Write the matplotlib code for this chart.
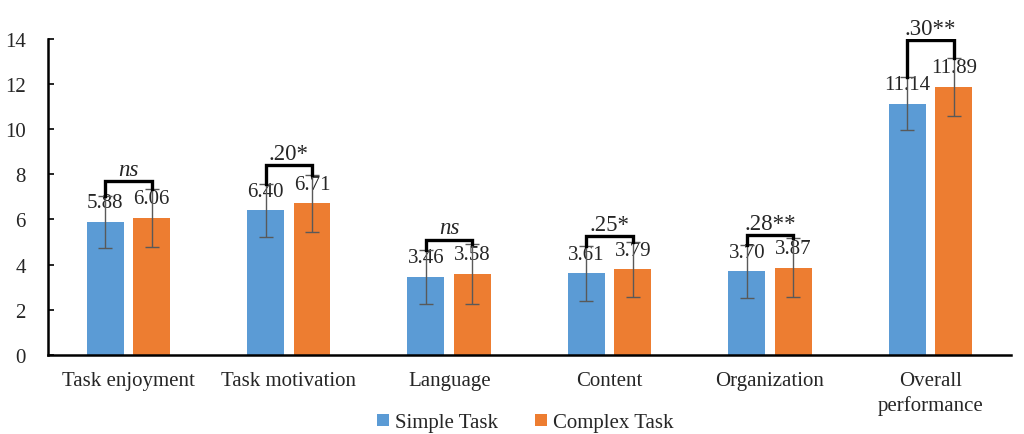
import matplotlib.pyplot as plt
import numpy as np

plt.rcParams['font.family'] = ['Liberation Serif', 'DejaVu Serif']

categories = ['Task enjoyment', 'Task motivation', 'Language', 'Content',
              'Organization', 'Overall\nperformance']
simple = [5.88, 6.40, 3.46, 3.61, 3.70, 11.14]
complex_ = [6.06, 6.71, 3.58, 3.79, 3.87, 11.89]
simple_sd = [1.15, 1.18, 1.20, 1.22, 1.18, 1.18]
complex_sd = [1.28, 1.27, 1.32, 1.22, 1.30, 1.29]
sig_labels = ['ns', '.20*', 'ns', '.25*', '.28**', '.30**']
bracket_top = [7.7, 8.4, 5.1, 5.27, 5.3, 13.94]

blue = '#5B9BD5'
orange = '#ED7D31'

fig = plt.figure(figsize=(10.24, 4.35), dpi=100)
ax = fig.add_axes([0.047, 0.182, 0.94, 0.726])

x = np.arange(len(categories))
off = 0.145
w = 0.23
err_kw = dict(ecolor='#595959', elinewidth=1, capsize=5, capthick=1)
ax.bar(x - off, simple, w, color=blue, yerr=simple_sd, error_kw=err_kw,
       label='Simple Task', zorder=2)
ax.bar(x + off, complex_, w, color=orange, yerr=complex_sd, error_kw=err_kw,
       label='Complex Task', zorder=2)

for i in range(len(categories)):
    ax.annotate(f'{simple[i]:.2f}', (x[i] - off, simple[i]), xytext=(0, 7),
                textcoords='offset points', ha='center', va='bottom',
                fontsize=15, color='#262626', zorder=1)
    ax.annotate(f'{complex_[i]:.2f}', (x[i] + off, complex_[i]), xytext=(0, 7),
                textcoords='offset points', ha='center', va='bottom',
                fontsize=15, color='#262626', zorder=1)
    top = bracket_top[i]
    up_s = simple[i] + simple_sd[i]
    up_c = complex_[i] + complex_sd[i]
    ax.plot([x[i] - off, x[i] - off, x[i] + off, x[i] + off],
            [up_s, top, top, up_c], color='black', lw=2.4, zorder=3,
            solid_joinstyle='miter')
    lab = sig_labels[i]
    ax.annotate(lab, (x[i], top), xytext=(0, 1), textcoords='offset points',
                ha='center', va='bottom', fontsize=16.5,
                style='italic' if lab == 'ns' else 'normal', color='#262626')

ax.set_ylim(0, 14)
ax.set_xlim(-0.5, 5.5)
ax.set_yticks(range(0, 15, 2))
ax.set_xticks(x)
ax.set_xticklabels(categories, fontsize=15, color='#262626', linespacing=1.3)
ax.tick_params(axis='x', length=0, pad=12)
ax.tick_params(axis='y', direction='in', length=4, width=1.2, labelsize=15,
               labelcolor='#262626', pad=16)
for s in ['top', 'right']:
    ax.spines[s].set_visible(False)
ax.spines['left'].set_linewidth(1.8)
ax.spines['bottom'].set_linewidth(1.8)

h, l = ax.get_legend_handles_labels()
fig.legend(h, l, loc='center', bbox_to_anchor=(0.513, 0.026), ncol=2,
           frameon=False, fontsize=15, handlelength=0.55, handleheight=0.55,
           columnspacing=1.8, handletextpad=0.3, labelcolor='#262626')

fig.savefig('out.png', dpi=100)
